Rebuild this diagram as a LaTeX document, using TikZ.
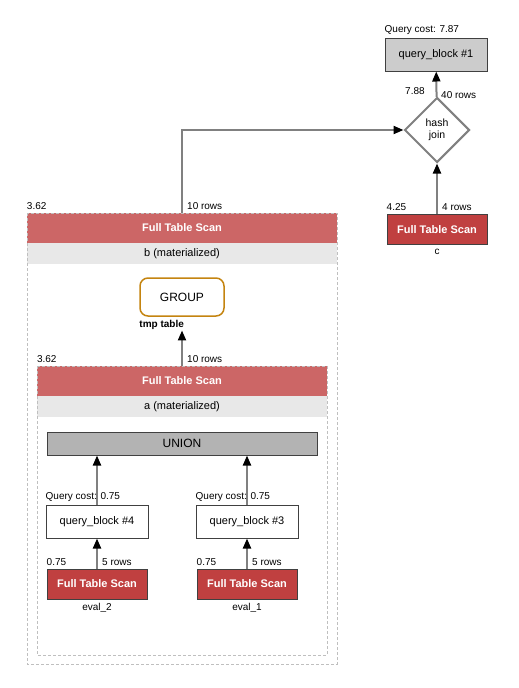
\documentclass[tikz,border=0pt]{standalone}
\usepackage{fontspec}
\setmainfont{Liberation Sans}
\usetikzlibrary{shapes.geometric, arrows.meta, positioning}

\definecolor{scanred}{RGB}{192,64,64}
\definecolor{matred}{RGB}{204,102,102}
\definecolor{matgray}{RGB}{232,232,232}
\definecolor{edgegray}{RGB}{128,128,128}
\definecolor{boxgray}{RGB}{204,204,204}
\definecolor{uniongray}{RGB}{179,179,179}
\definecolor{groupgold}{RGB}{196,132,16}

\begin{document}
\begin{tikzpicture}[x=1pt, y=-1pt,
  qblock/.style={rectangle, minimum width=102pt, minimum height=33pt, inner sep=0pt, draw=black!75, line width=1pt, font=\fontsize{11}{13}\selectfont},
  scan/.style={rectangle, minimum width=100pt, minimum height=30pt, inner sep=0pt, draw=black!75, line width=1pt, fill=scanred, text=white, font=\bfseries\fontsize{11}{13}\selectfont},
  matscan/.style={rectangle, minimum height=30pt, inner sep=0pt, fill=matred, text=white, font=\bfseries\fontsize{11}{13}\selectfont},
  matname/.style={rectangle, minimum height=21pt, inner sep=0pt, fill=matgray, font=\fontsize{11}{13}\selectfont},
  joinop/.style={diamond, minimum width=65pt, minimum height=65pt, inner sep=0pt, draw=edgegray, line width=2pt, fill=white, align=center, font=\fontsize{10.5}{12}\selectfont},
  small/.style={inner sep=0pt, font=\fontsize{10}{12}\selectfont},
  matbox/.style={draw=black!25, line width=1pt, dash pattern=on 3pt off 2pt},
  arrow/.style={draw=edgegray, line width=2pt, -{Triangle[black, width=8pt, length=10pt]}}]

  \useasboundingbox (0,0) rectangle (519,688);

  % Materialized boxes
  \node (bscan) [matscan, minimum width=310pt] at (182,228) {Full Table Scan};
  \node (bname) [matname, minimum width=310pt] at (182,253.5) {b (materialized)};
  \node (ascan) [matscan, minimum width=290pt] at (182,381) {Full Table Scan};
  \node (aname) [matname, minimum width=290pt] at (182,406.5) {a (materialized)};
  \draw [matbox] (27,213) rectangle (337,664);
  \draw [matbox] (37,366) rectangle (327,655);

  % Nodes
  \node (qb1) [qblock, fill=boxgray] at (436,54.5) {query\_block \#1};
  \node (hjoin) [joinop] at (437,130) {hash\\join};
  \node (cscan) [scan] at (437,229.5) {Full Table Scan};
  \node (group) [rectangle, rounded corners=8pt, minimum width=84pt, minimum height=38pt, draw=groupgold, line width=1.5pt, font=\fontsize{12}{14}\selectfont] at (182,297) {GROUP};
  \node (union) [qblock, minimum width=270pt, minimum height=23pt, fill=uniongray, font=\fontsize{12}{14}\selectfont] at (182,443.5) {UNION};
  \node (qb4) [qblock, fill=white] at (97,521.5) {query\_block \#4};
  \node (qb3) [qblock, fill=white] at (247,521.5) {query\_block \#3};
  \node (scan2) [scan] at (97,584) {Full Table Scan};
  \node (scan1) [scan] at (247,584) {Full Table Scan};

  % Labels
  \node (qb1cost) [small, anchor=south west] at ([yshift=3pt]qb1.north west) {Query cost: 7.87};
  \node (joincost) [small, anchor=south west] at (405,95) {7.88};
  \node (joinrows) [small, anchor=south west] at (441,99) {40 rows};
  \node (ccost) [small, anchor=south west] at ([yshift=3pt]cscan.north west) {4.25};
  \node (crows) [small, anchor=south west] at ([xshift=5pt, yshift=3pt]cscan.north) {4 rows};
  \node (cname) [small, below=4pt of cscan] {c};
  \node (bcost) [small, anchor=south west] at ([yshift=3pt]bscan.north west) {3.62};
  \node (brows) [small, anchor=south west] at ([xshift=5pt, yshift=3pt]bscan.north) {10 rows};
  \node (tmptable) [small, font=\bfseries\fontsize{10}{12}\selectfont, anchor=north west] at ([yshift=-3pt]group.south west) {tmp table};
  \node (acost) [small, anchor=south west] at ([yshift=3pt]ascan.north west) {3.62};
  \node (arows) [small, anchor=south west] at ([xshift=5pt, yshift=3pt]ascan.north) {10 rows};
  \node (qb4cost) [small, anchor=south west] at ([yshift=3pt]qb4.north west) {Query cost: 0.75};
  \node (qb3cost) [small, anchor=south west] at ([yshift=3pt]qb3.north west) {Query cost: 0.75};
  \node (s2cost) [small, anchor=south west] at ([yshift=3pt]scan2.north west) {0.75};
  \node (s2rows) [small, anchor=south west] at ([xshift=5pt, yshift=3pt]scan2.north) {5 rows};
  \node (s2name) [small, below=4pt of scan2] {eval\_2};
  \node (s1cost) [small, anchor=south west] at ([yshift=3pt]scan1.north west) {0.75};
  \node (s1rows) [small, anchor=south west] at ([xshift=5pt, yshift=3pt]scan1.north) {5 rows};
  \node (s1name) [small, below=4pt of scan1] {eval\_1};

  % Arrows
  \draw [arrow] (cscan) -- (hjoin);
  \draw [arrow] (hjoin) -- (qb1);
  \draw [arrow] (bscan.north) |- (hjoin.west);
  \draw [arrow] (ascan.north) -- ([yshift=-1pt]ascan.north |- tmptable.south);
  \draw [arrow] (qb4.north) -- (qb4.north |- union.south);
  \draw [arrow] (qb3.north) -- (qb3.north |- union.south);
  \draw [arrow] (scan2) -- (qb4);
  \draw [arrow] (scan1) -- (qb3);
\end{tikzpicture}
\end{document}
